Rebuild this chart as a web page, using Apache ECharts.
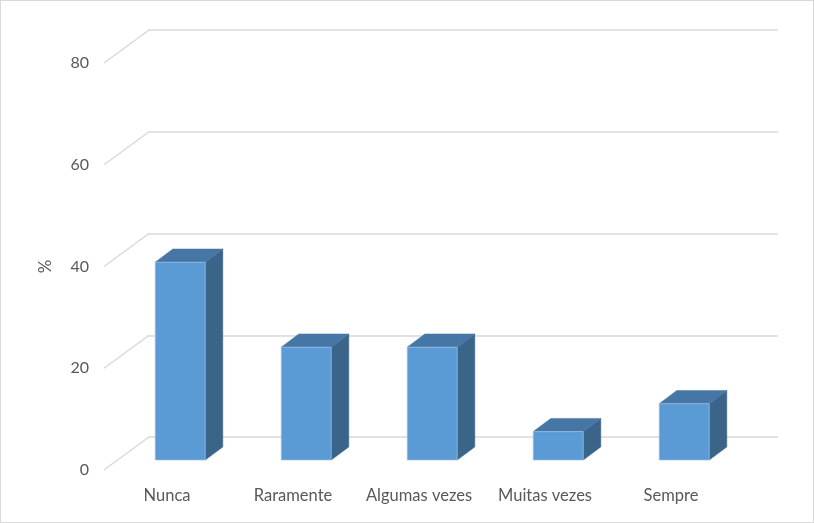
<!DOCTYPE html>
<html><head><meta charset="utf-8">
<script src="https://cdn.jsdelivr.net/npm/echarts@6/dist/echarts.min.js"></script>
<style>html,body{margin:0;padding:0;background:#fff}#c{width:814px;height:523px;box-sizing:border-box;border:1px solid #d9d9d9}</style>
</head><body><div id="c"></div>
<script>
const categories = ['Nunca', 'Raramente', 'Algumas vezes', 'Muitas vezes', 'Sempre'];
const values = [38.9, 22.2, 22.2, 5.6, 11.1];
const yTicks = [0, 20, 40, 60, 80];

const DX = -44, DY = 33;          // depth vector from back wall to front edge
const F0 = 0.3, F1 = 0.7;         // bar depth span (fraction of depth)
const BAR_W = 50;
const FONT = 'Lato, "Open Sans", sans-serif';

const chart = echarts.init(document.getElementById('c'), null, {renderer: 'canvas'});
chart.setOption({
  animation: false,
  grid: [
    {left: 147, right: 35, top: 29, bottom: 85},   // back wall
    {left: 103, right: 79, top: 62, bottom: 52}    // front plane
  ],
  xAxis: [
    {gridIndex: 0, type: 'category', data: categories, axisLine: {show: false}, axisTick: {show: false}, axisLabel: {show: false}},
    {gridIndex: 1, type: 'category', data: categories, axisLine: {show: false}, axisTick: {show: false},
     axisLabel: {color: '#595959', fontSize: 16.5, fontFamily: FONT, margin: 17, interval: 0, hideOverlap: false}}
  ],
  yAxis: [
    {gridIndex: 0, type: 'value', min: 0, max: 80, interval: 20, axisLabel: {show: false},
     axisLine: {show: false}, axisTick: {show: false}, splitLine: {lineStyle: {color: '#d9d9d9', width: 1.5}}},
    {gridIndex: 1, type: 'value', min: 0, max: 80, interval: 20, axisLine: {show: false}, axisTick: {show: false},
     splitLine: {show: false},
     axisLabel: {color: '#595959', fontSize: 16, fontFamily: FONT, margin: 15},
     name: '%', nameLocation: 'middle', nameGap: 50, nameRotate: 90,
     nameTextStyle: {color: '#595959', fontSize: 17, fontFamily: FONT}}
  ],
  series: [
    {
      type: 'custom', xAxisIndex: 0, yAxisIndex: 0, silent: true,
      data: yTicks.map(v => [0, v]),
      renderItem: function (params, api) {
        const p = api.coord([0, api.value(1)]);
        const left = params.coordSys.x;
        return {type: 'line', shape: {x1: left + 1, y1: p[1], x2: left + DX, y2: p[1] + DY},
          style: {stroke: '#d9d9d9', lineWidth: 1.5}};
      }
    },
    {
      type: 'custom', xAxisIndex: 0, yAxisIndex: 0, silent: true,
      data: values.map((v, i) => [i, v]),
      renderItem: function (params, api) {
        const top = api.coord([api.value(0), api.value(1)]);
        const bot = api.coord([api.value(0), 0]);
        const fx = top[0] + DX * F1, fy = DY * F1;
        const bx = top[0] + DX * F0, by = DY * F0;
        const ddx = bx - fx, ddy = by - fy;
        const x0 = fx - BAR_W / 2, x1 = fx + BAR_W / 2;
        const yt = top[1] + fy, yb = bot[1] + fy;
        return {type: 'group', children: [
          {type: 'polygon', shape: {points: [[x1, yt], [x1 + ddx, yt + ddy], [x1 + ddx, yb + ddy], [x1, yb]]},
           style: {fill: '#3b6489', stroke: '#3b6489', lineWidth: 0.5}},
          {type: 'polygon', shape: {points: [[x0, yt], [x0 + ddx, yt + ddy], [x1 + ddx, yt + ddy], [x1, yt]]},
           style: {fill: '#4676a5', stroke: '#4676a5', lineWidth: 0.5}},
          {type: 'rect', shape: {x: x0, y: yt, width: BAR_W, height: yb - yt},
           style: {fill: '#5b9bd5', stroke: '#a8c6e6', lineWidth: 0.6}}
        ]};
      }
    }
  ]
});
</script></body></html>
